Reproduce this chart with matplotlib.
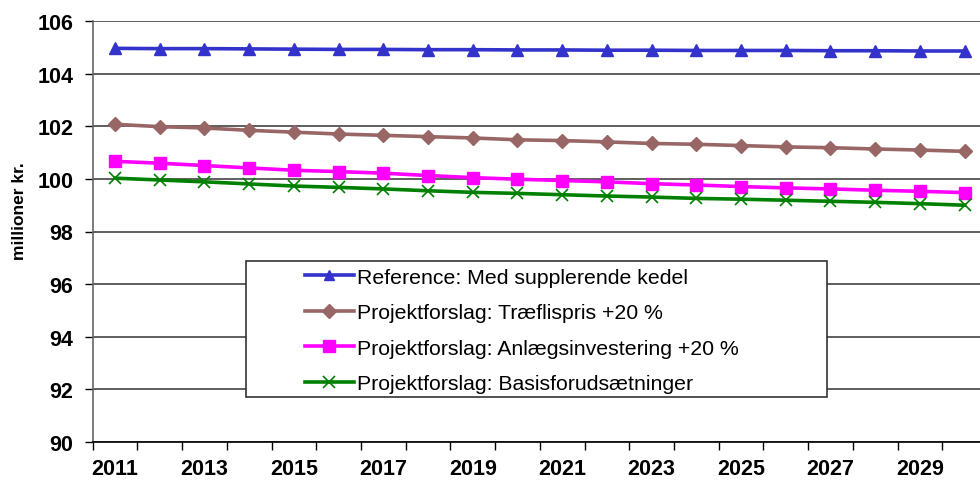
import numpy as np
import matplotlib
matplotlib.use("Agg")
from matplotlib import pyplot as plt
from matplotlib.patches import Rectangle

years = list(range(2011, 2031))

reference = [104.97, 104.96, 104.96, 104.95, 104.94, 104.93, 104.93, 104.92, 104.92, 104.91,
             104.91, 104.90, 104.90, 104.89, 104.89, 104.89, 104.88, 104.88, 104.87, 104.87]
traeflis = [102.08, 101.99, 101.94, 101.85, 101.78, 101.71, 101.66, 101.61, 101.56, 101.49,
            101.46, 101.41, 101.35, 101.32, 101.27, 101.22, 101.19, 101.14, 101.10, 101.05]
anlaeg = [100.67, 100.60, 100.51, 100.42, 100.33, 100.28, 100.22, 100.13, 100.05, 99.99,
          99.94, 99.89, 99.82, 99.77, 99.71, 99.66, 99.62, 99.57, 99.53, 99.48]
basis = [100.03, 99.96, 99.89, 99.81, 99.73, 99.68, 99.62, 99.55, 99.49, 99.45,
         99.40, 99.35, 99.31, 99.26, 99.23, 99.19, 99.15, 99.11, 99.06, 99.00]

labels = ["Reference: Med supplerende kedel",
          "Projektforslag: Træflispris +20 %",
          "Projektforslag: Anlægsinvestering +20 %",
          "Projektforslag: Basisforudsætninger"]

plt.rcParams['font.family'] = ['Liberation Sans', 'DejaVu Sans']

W, H = 980, 485
fig = plt.figure(figsize=(W / 100, H / 100), dpi=100)
ax = fig.add_axes([92.7 / W, 1 - 442.7 / H, (987 - 92.7) / W, (442.7 - 22.3) / H])

lw = 2.6
l1, = ax.plot(years, reference, color='#3333CC', lw=lw, marker='^', ms=8, zorder=5)
l2, = ax.plot(years, traeflis, color='#996666', lw=lw, marker='D', ms=7.5, zorder=5)
l3, = ax.plot(years, anlaeg, color='#FF00FF', lw=lw, marker='s', ms=9, zorder=5)
l4, = ax.plot(years, basis, color='#008000', lw=lw, marker='x', ms=9, mew=1.2, zorder=5)

ax.set_xlim(2010.5, 2030.5)
ax.set_ylim(90, 106)
ax.set_yticks(np.arange(90, 107, 2))
ax.yaxis.grid(True, color='#333333', lw=1.1)
ax.set_axisbelow(True)

# category boundaries as tick marks, labels on every other year
ax.set_xticks(np.arange(2010.5, 2031, 1))
ax.set_xticklabels([])
ax.set_xticks(years[::2], minor=True)
ax.set_xticklabels([str(y) for y in years[::2]], minor=True, fontsize=15.5, fontweight='bold')
ax.tick_params(axis='x', which='major', direction='out', length=6, width=1, color='black')
ax.tick_params(axis='x', which='minor', length=0, pad=12)
ax.tick_params(axis='y', direction='out', length=6, width=1, color='black', pad=8)
for t in ax.get_yticklabels():
    t.set_fontsize(15.5)
    t.set_fontweight('bold')

ax.spines['top'].set_visible(False)
ax.spines['right'].set_visible(False)
ax.spines['left'].set_color('#666666')
ax.spines['left'].set_linewidth(1.2)
ax.spines['bottom'].set_color('black')
ax.spines['bottom'].set_linewidth(1.2)

fig.text(19 / W, 1 - 211 / H, "millioner kr.", rotation=90, ha='center', va='center',
         fontsize=12.5, fontweight='bold')

# legend box (Excel style, wide left padding)
fig.patches.append(Rectangle((246 / W, 1 - 398 / H), (827 - 246) / W, (398 - 262) / H,
                             transform=fig.transFigure, facecolor='white',
                             edgecolor='#333333', lw=1.2, zorder=10))
leg = fig.legend([l1, l2, l3, l4], labels, loc='upper left',
                 bbox_to_anchor=(294 / W, 1 - 258 / H), frameon=False,
                 fontsize=15.3, handlelength=2.3, handletextpad=0.15,
                 labelspacing=0.78, borderpad=0, markerscale=0.9)
leg.set_zorder(11)

fig.savefig("out.png", dpi=100)
